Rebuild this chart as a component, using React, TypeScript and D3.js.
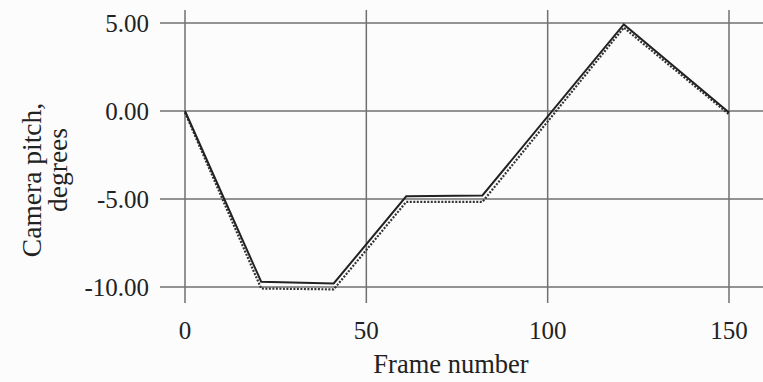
import React from "react";
import * as d3 from "d3";

const frames = [0, 21, 41, 61, 82, 121, 150];
const solidPitch = [0, -9.7, -9.8, -4.85, -4.8, 4.92, -0.08];
const dottedPitch = [0, -10.0, -10.05, -5.08, -5.08, 4.82, -0.1];
const xTicks = [0, 50, 100, 150];
const yTicks = [5, 0, -5, -10];

const W = 763;
const H = 382;

export default function App() {
  const x = d3.scaleLinear().domain([0, 150]).range([185, 729]);
  const y = d3.scaleLinear().domain([-10, 5]).range([287, 23]);
  const line = d3
    .line<[number, number]>()
    .x((d) => x(d[0]))
    .y((d) => y(d[1]));
  const solid = line(frames.map((f, i) => [f, solidPitch[i]]) as [number, number][]) || "";
  const dotted = line(frames.map((f, i) => [f, dottedPitch[i]]) as [number, number][]) || "";
  const font = "'Liberation Serif', 'DejaVu Serif', serif";
  const grid = "#707070";
  const fmt = (v: number) => d3.format(".2f")(v).replace("\u2212", "-");
  return (
    <svg
      width={W}
      height={H}
      style={{ position: "absolute", left: 0, top: 0, background: "#fcfcfc" }}
    >
      {yTicks.map((t) => (
        <g key={"y" + t}>
          <line x1={160} x2={763} y1={y(t)} y2={y(t)} stroke={grid} strokeWidth={1.5} />
          <text
            x={149}
            y={y(t)}
            dy="0.34em"
            textAnchor="end"
            fontFamily={font}
            fontSize={25}
            fill="#222"
          >
            {fmt(t)}
          </text>
        </g>
      ))}
      {xTicks.map((t) => (
        <g key={"x" + t}>
          <line x1={x(t)} x2={x(t)} y1={10} y2={303} stroke={grid} strokeWidth={1.5} />
          <text
            x={x(t)}
            y={339}
            textAnchor="middle"
            fontFamily={font}
            fontSize={25}
            fill="#222"
          >
            {t}
          </text>
        </g>
      ))}
      <path d={dotted} fill="none" stroke="#333" strokeWidth={2.2} strokeDasharray="2,1.5" transform="translate(0,1.5)" />
      <path d={solid} fill="none" stroke="#222" strokeWidth={2} />
      <text x={451} y={373} textAnchor="middle" fontFamily={font} fontSize={26.5} fill="#222">
        Frame number
      </text>
      <text
        transform="translate(41,180) rotate(-90)"
        textAnchor="middle"
        fontFamily={font}
        fontSize={27.5}
        fill="#222"
      >
        Camera pitch,
      </text>
      <text
        transform="translate(67,170) rotate(-90)"
        textAnchor="middle"
        fontFamily={font}
        fontSize={27.5}
        fill="#222"
      >
        degrees
      </text>
    </svg>
  );
}
